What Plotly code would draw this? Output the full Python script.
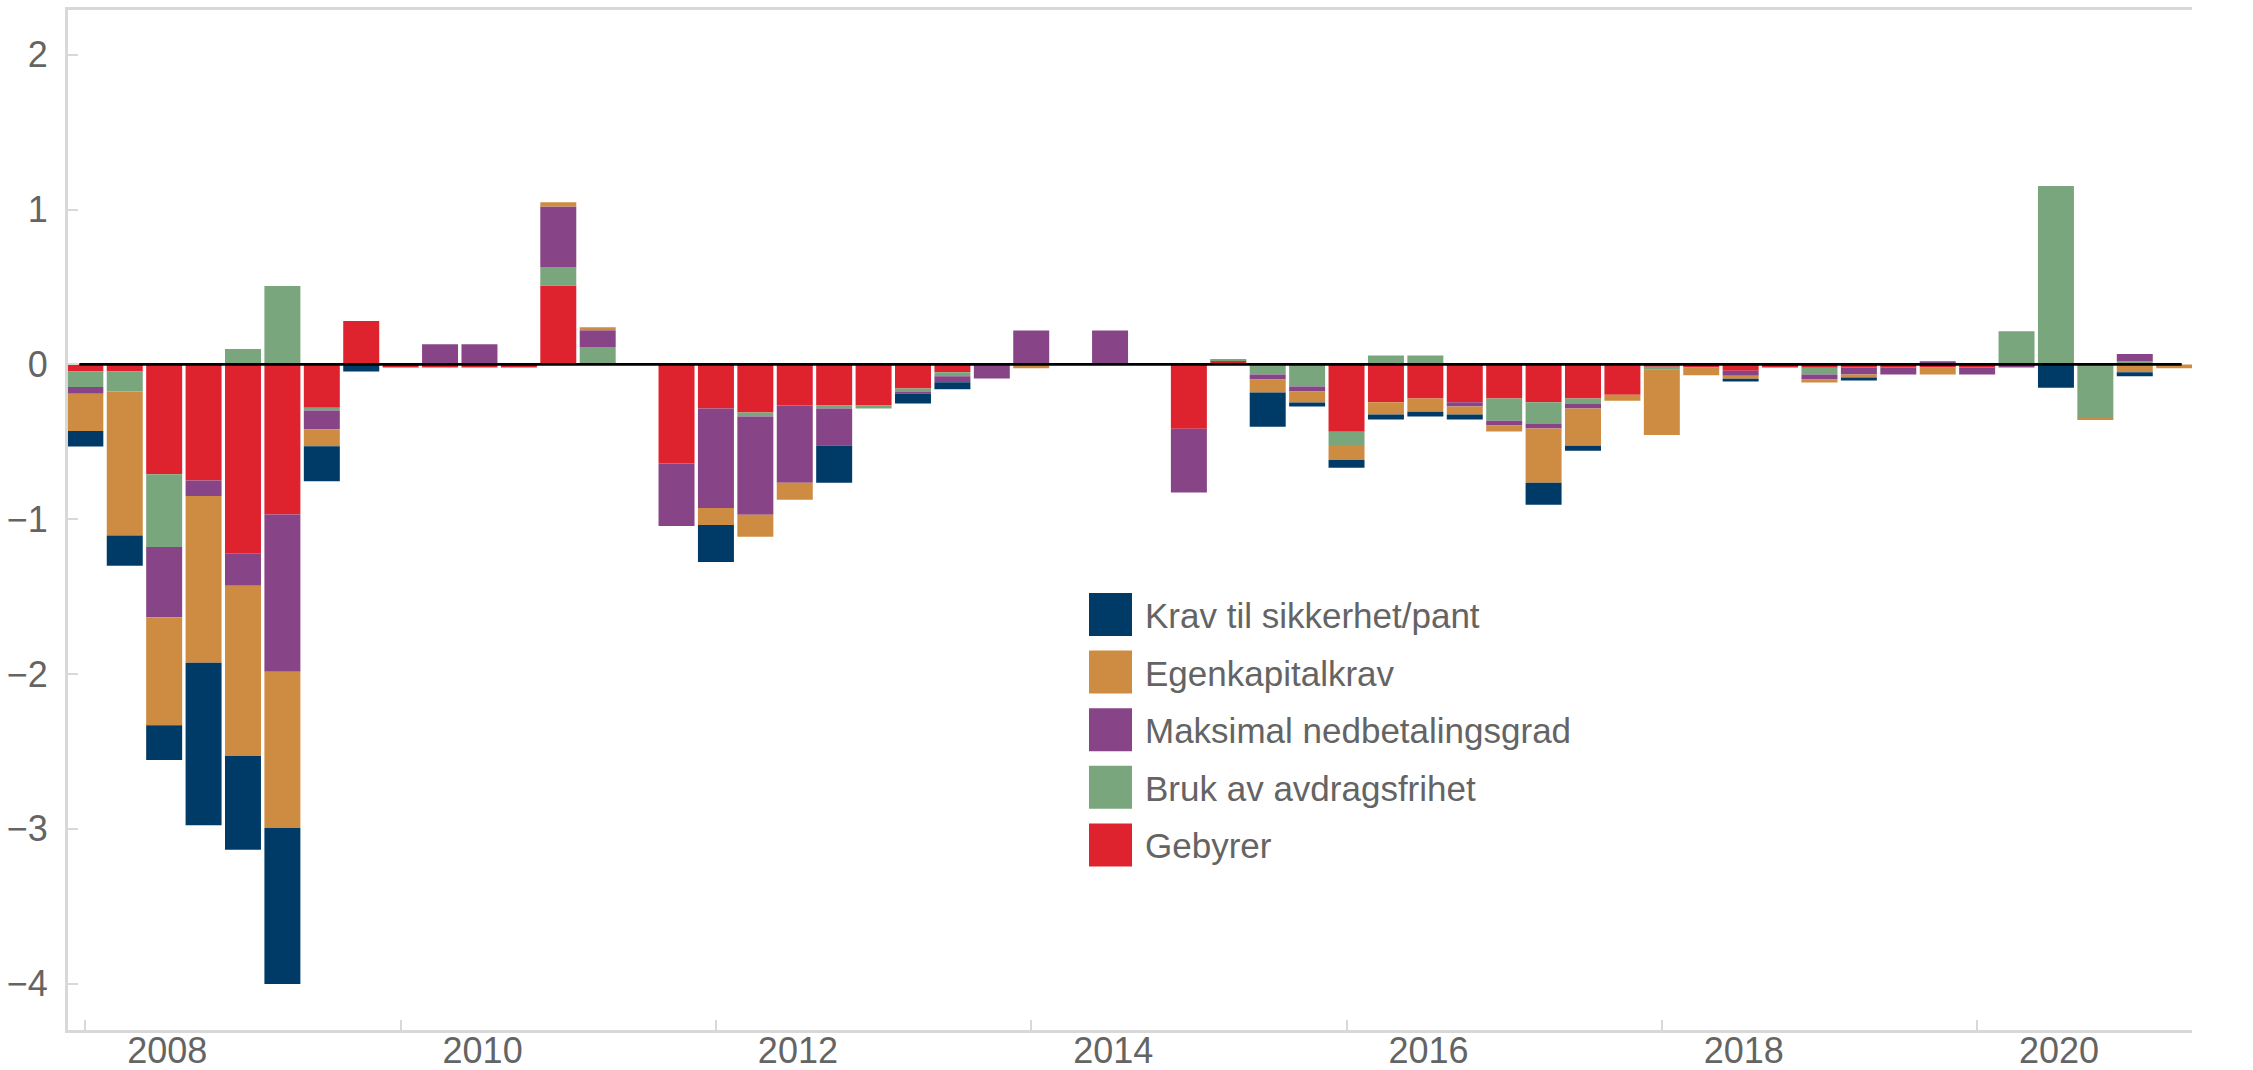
import plotly.graph_objects as go

# ---------------- data ----------------
quarters = [
    "2007K4",
    "2008K1", "2008K2", "2008K3", "2008K4",
    "2009K1", "2009K2", "2009K3", "2009K4",
    "2010K1", "2010K2", "2010K3", "2010K4",
    "2011K1", "2011K2", "2011K3", "2011K4",
    "2012K1", "2012K2", "2012K3", "2012K4",
    "2013K1", "2013K2", "2013K3", "2013K4",
    "2014K1", "2014K2", "2014K3", "2014K4",
    "2015K1", "2015K2", "2015K3", "2015K4",
    "2016K1", "2016K2", "2016K3", "2016K4",
    "2017K1", "2017K2", "2017K3", "2017K4",
    "2018K1", "2018K2", "2018K3", "2018K4",
    "2019K1", "2019K2", "2019K3", "2019K4",
    "2020K1", "2020K2", "2020K3", "2020K4",
    "2021K1",
]

gebyrer = [
    -0.045, -0.045, -0.71, -0.75, -1.22, -0.97, -0.28, 0.28, -0.02, -0.02,
    -0.02, -0.02, 0.51, 0.0, 0.0, -0.64, -0.285, -0.31, -0.265, -0.265,
    -0.265, -0.155, -0.05, 0.0, 0.0, 0.0, 0.0, 0.0, -0.415, 0.026,
    0.0, 0.0, -0.435, -0.245, -0.22, -0.245, -0.22, -0.245, -0.22, -0.195,
    -0.015, -0.02, -0.04, -0.02, -0.022, -0.02, -0.02, -0.02, -0.02, 0.0,
    0.0, 0.0, 0.0, 0.0,
]
avdragsfrihet = [
    -0.10, -0.13, -0.47, 0.0, 0.10, 0.507, -0.018, 0.0, 0.0, 0.0,
    0.0, 0.0, 0.116, 0.112, 0.0, 0.0, 0.0, -0.026, 0.0, -0.019,
    -0.019, -0.019, -0.026, 0.0, 0.0, 0.0, 0.0, 0.0, 0.0, 0.008,
    -0.065, -0.143, -0.086, 0.058, 0.058, 0.0, -0.143, -0.136, -0.033, 0.0,
    -0.02, 0.0, 0.0, 0.0, -0.043, 0.0, 0.0, 0.0, 0.0, 0.214,
    1.153, -0.35, 0.02, 0.0,
]
nedbetalingsgrad = [
    -0.045, 0.0, -0.453, -0.10, -0.21, -1.016, -0.12, 0.0, 0.0, 0.13,
    0.13, 0.0, 0.395, 0.109, 0.0, -0.404, -0.642, -0.635, -0.499, -0.24,
    0.0, -0.013, -0.039, -0.091, 0.22, 0.0, 0.22, 0.0, -0.412, 0.0,
    -0.032, -0.032, 0.0, 0.0, 0.0, -0.026, -0.032, -0.033, -0.032, 0.0,
    0.0, 0.0, -0.033, 0.0, -0.032, -0.045, -0.045, 0.02, -0.045, -0.02,
    0.0, 0.0, 0.047, 0.0,
]
egenkapital = [
    -0.24, -0.93, -0.698, -1.077, -1.10, -1.009, -0.11, 0.0, 0.0, 0.0,
    0.0, 0.0, 0.027, 0.02, 0.0, 0.0, -0.11, -0.143, -0.11, 0.0,
    0.0, 0.0, 0.0, 0.0, -0.025, 0.0, 0.0, 0.0, 0.0, 0.0,
    -0.084, -0.071, -0.096, -0.078, -0.085, -0.052, -0.039, -0.35, -0.24, -0.039,
    -0.421, -0.05, -0.019, 0.0, -0.02, -0.019, 0.0, -0.045, 0.0, 0.0,
    0.0, -0.007, -0.05, -0.025,
]
sikkerhet = [
    -0.10, -0.195, -0.225, -1.05, -0.605, -1.007, -0.226, -0.045, 0.0, 0.0,
    0.0, 0.0, 0.0, 0.0, 0.0, 0.0, -0.239, 0.0, 0.0, -0.24,
    0.0, -0.065, -0.045, 0.0, 0.0, 0.0, 0.0, 0.0, 0.0, 0.0,
    -0.221, -0.026, -0.051, -0.032, -0.032, -0.032, 0.0, -0.142, -0.032, 0.0,
    0.0, 0.0, -0.018, 0.0, 0.0, -0.02, 0.0, 0.0, 0.0, 0.0,
    -0.15, 0.0, -0.027, 0.0,
]

series_names = [
    "Krav til sikkerhet/pant",
    "Egenkapitalkrav",
    "Maksimal nedbetalingsgrad",
    "Bruk av avdragsfrihet",
    "Gebyrer",
]
y_tick_values = [-4, -3, -2, -1, 0, 1, 2]
x_tick_years = [2008, 2010, 2012, 2014, 2016, 2018, 2020]
x_tick_labels = ["2008", "2010", "2012", "2014", "2016", "2018", "2020"]

# ---------------- styling ----------------
colors = {
    "Krav til sikkerhet/pant": "#003b67",
    "Egenkapitalkrav": "#ce8b42",
    "Maksimal nedbetalingsgrad": "#874487",
    "Bruk av avdragsfrihet": "#79a67d",
    "Gebyrer": "#de222e",
}
W, H = 2253, 1070
ML, MR, MT, MB = 68, 61, 10, 40
FONT = "Liberation Sans, Arial, sans-serif"
TXT = "#646464"
AX = "#d8d8d8"

# quarter-end position in decimal years
x = [int(q[:4]) + int(q[-1]) / 4 for q in quarters]

values = {
    "Gebyrer": gebyrer,
    "Bruk av avdragsfrihet": avdragsfrihet,
    "Maksimal nedbetalingsgrad": nedbetalingsgrad,
    "Egenkapitalkrav": egenkapital,
    "Krav til sikkerhet/pant": sikkerhet,
}

fig = go.Figure()
# stacking order from zero outward
for name in ["Gebyrer", "Bruk av avdragsfrihet", "Maksimal nedbetalingsgrad",
             "Egenkapitalkrav", "Krav til sikkerhet/pant"]:
    fig.add_trace(go.Bar(
        x=x, y=values[name], name=name,
        marker=dict(color=colors[name], line=dict(width=0)),
        showlegend=False,
    ))

yr = [-4.3, 2.29]
fig.update_layout(
    width=W, height=H,
    margin=dict(l=ML, r=MR, t=MT, b=MB, pad=0, autoexpand=False),
    paper_bgcolor="white", plot_bgcolor="white",
    barmode="relative", bargap=0.087,
    font=dict(family=FONT, size=36, color=TXT),
    showlegend=False,
    xaxis=dict(
        range=[2007.89, 2021.363],
        tickmode="array",
        tickvals=[y + 0.52 for y in x_tick_years],
        ticktext=x_tick_labels,
        ticks="", showgrid=False, zeroline=False,
        showline=True, mirror=True, linecolor=AX, linewidth=3,
        tickfont=dict(family=FONT, size=36, color=TXT),
        minor=dict(tickmode="array", tickvals=x_tick_years, ticks="inside",
                   ticklen=10, tickwidth=2, tickcolor=AX, showgrid=False),
        ticklabelstandoff=-13,
        automargin=False,
    ),
    yaxis=dict(
        range=yr, tickmode="array", tickvals=y_tick_values,
        ticks="inside", ticklen=10, tickwidth=2, tickcolor=AX,
        showgrid=False, zeroline=False,
        showline=True, linecolor=AX, linewidth=3,
        tickfont=dict(family=FONT, size=36, color=TXT),
        ticklabelstandoff=10,
        automargin=False,
    ),
    yaxis2=dict(
        range=yr, tickmode="array", tickvals=y_tick_values,
        overlaying="y", side="right",
        ticks="inside", ticklen=10, tickwidth=2, tickcolor=AX,
        showgrid=False, zeroline=False,
        showline=True, linecolor=AX, linewidth=3,
        tickfont=dict(family=FONT, size=36, color=TXT),
        ticklabelstandoff=11,
        automargin=False,
    ),
)

pw = W - ML - MR
ph = H - MT - MB


def px_x(p):
    return (p - ML) / pw


def px_y(p):
    return (H - MB - p) / ph


# zero line
fig.add_shape(type="line", xref="paper", yref="y",
              x0=px_x(79.3), x1=px_x(2181.7), y0=0, y1=0,
              line=dict(color="black", width=2.7), layer="above")

# custom legend
sq = 43
pitch = 57.6
top0 = 593
for i, name in enumerate(series_names):
    t = top0 + i * pitch
    fig.add_shape(type="rect", xref="paper", yref="paper",
                  x0=px_x(1089), x1=px_x(1089 + sq), y0=px_y(t + sq), y1=px_y(t),
                  fillcolor=colors[name], line=dict(width=0), layer="above")
    fig.add_annotation(xref="paper", yref="paper", x=px_x(1143), y=px_y(t + sq / 2 + 1),
                       text=name, showarrow=False, xanchor="left", yanchor="middle",
                       font=dict(family=FONT, size=35, color=TXT))

fig.write_html("out.html", config={"displayModeBar": False},
               post_script="document.body.style.margin='0';")
